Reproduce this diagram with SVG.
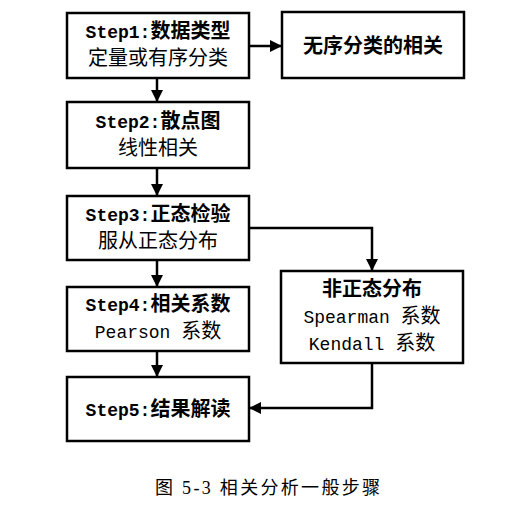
<svg xmlns="http://www.w3.org/2000/svg" width="530" height="520" viewBox="0 0 530 520">
<style>
.box{fill:#fff;stroke:#000;stroke-width:2.5}
.t{font-family:"Liberation Mono","Noto Sans CJK SC",monospace;font-size:20px;fill:#000;text-anchor:middle}
.b{font-weight:bold}
.lat{font-size:18px}
.con{fill:none;stroke:#000;stroke-width:2.5}
.cap{font-family:"Liberation Serif","Noto Sans CJK SC",serif;font-size:18px;fill:#000}
</style>
<defs>
<marker id="ah" markerUnits="userSpaceOnUse" markerWidth="14" markerHeight="14" refX="12" refY="6" orient="auto">
<path d="M0,0 L12,6 L0,12 Z" fill="#000"/>
</marker>
</defs>
<rect width="530" height="520" fill="#fff"/>
<g id="connectors">
<line class="con" x1="157" y1="78" x2="157" y2="102" marker-end="url(#ah)"/>
<line class="con" x1="249" y1="46" x2="282" y2="46" marker-end="url(#ah)"/>
<line class="con" x1="157" y1="168" x2="157" y2="196" marker-end="url(#ah)"/>
<line class="con" x1="157" y1="260" x2="157" y2="287" marker-end="url(#ah)"/>
<line class="con" x1="157" y1="351" x2="157" y2="377" marker-end="url(#ah)"/>
<polyline class="con" points="249,228 372,228 372,271" marker-end="url(#ah)"/>
<polyline class="con" points="372,363 372,408 249,408" marker-end="url(#ah)"/>
</g>
<g id="step1">
<rect class="box" x="67" y="13" width="182" height="65"/>
<text class="t b" x="158" y="38"><tspan class="lat">Step1:</tspan>数据类型</text>
<text class="t" x="158" y="65">定量或有序分类</text>
</g>
<g id="unordered">
<rect class="box" x="282" y="12" width="182" height="66"/>
<text class="t b" x="373" y="53">无序分类的相关</text>
</g>
<g id="step2">
<rect class="box" x="67" y="102" width="182" height="66"/>
<text class="t b" x="158" y="128"><tspan class="lat">Step2:</tspan>散点图</text>
<text class="t" x="158" y="155">线性相关</text>
</g>
<g id="step3">
<rect class="box" x="67" y="196" width="182" height="64"/>
<text class="t b" x="158" y="221"><tspan class="lat">Step3:</tspan>正态检验</text>
<text class="t" x="158" y="248">服从正态分布</text>
</g>
<g id="step4">
<rect class="box" x="67" y="287" width="182" height="64"/>
<text class="t b" x="158" y="311"><tspan class="lat">Step4:</tspan>相关系数</text>
<text class="t" x="158" y="338"><tspan class="lat">Pearson </tspan>系数</text>
</g>
<g id="nonnormal">
<rect class="box" x="281" y="271" width="182" height="92"/>
<text class="t b" x="372" y="296">非正态分布</text>
<text class="t" x="372" y="323"><tspan class="lat">Spearman </tspan>系数</text>
<text class="t" x="372" y="350"><tspan class="lat">Kendall </tspan>系数</text>
</g>
<g id="step5">
<rect class="box" x="67" y="377" width="182" height="64"/>
<text class="t b" x="158" y="416"><tspan class="lat">Step5:</tspan>结果解读</text>
</g>
<text class="cap" x="155" y="494" textLength="225" lengthAdjust="spacing">图 5-3 相关分析一般步骤</text>
</svg>
